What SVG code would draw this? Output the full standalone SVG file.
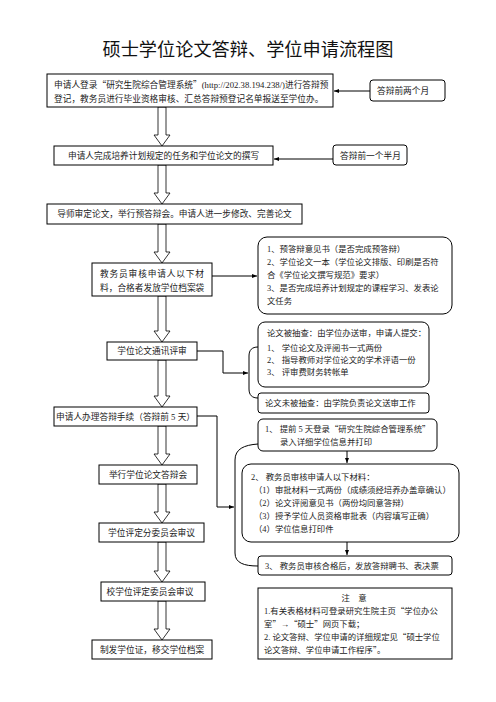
<svg xmlns="http://www.w3.org/2000/svg" width="496" height="702" viewBox="0 0 496 702">
<style>
.b{fill:#fff;stroke:#000;stroke-width:1}
.r{fill:#fff;stroke:#000;stroke-width:1}
.t{font-family:"Liberation Serif","Noto Sans CJK SC",serif;font-size:8.7px;fill:#222}
.s{font-family:"Liberation Serif","Noto Sans CJK SC",serif;font-size:8.4px;fill:#222}
.q{font-family:"Noto Sans CJK SC",sans-serif}
.c{text-anchor:middle}
.ha{fill:#fff;stroke:#000;stroke-width:0.8}
.ln{fill:none;stroke:#000;stroke-width:1}
</style>
<defs>
<marker id="ah" viewBox="0 0 10 10" refX="10" refY="5" markerWidth="5" markerHeight="5" orient="auto-start-reverse">
<path d="M0,1 L10,5 L0,9 Z" fill="#000"/>
</marker>
</defs>
<rect width="496" height="702" fill="#fff"/>
<text x="248" y="56" font-family="'Noto Sans CJK SC',sans-serif" font-size="18.2" text-anchor="middle" fill="#111">硕士学位论文答辩、学位申请流程图</text>

<g id="connectors">
<path class="ha" d="M158,107 L166,107 L166,135 L170,135 L162,146 L154,135 L158,135 Z"/>
<path class="ha" d="M158,165 L166,165 L166,193 L170,193 L162,204 L154,193 L158,193 Z"/>
<path class="ha" d="M158,224 L166,224 L166,252 L170,252 L162,263 L154,252 L158,252 Z"/>
<path class="ha" d="M158,296 L166,296 L166,331 L170,331 L162,342 L154,331 L158,331 Z"/>
<path class="ha" d="M158,360 L166,360 L166,396 L170,396 L162,407 L154,396 L158,396 Z"/>
<path class="ha" d="M158,426 L166,426 L166,454 L170,454 L162,465 L154,454 L158,454 Z"/>
<path class="ha" d="M158,484 L166,484 L166,512 L170,512 L162,523 L154,512 L158,512 Z"/>
<path class="ha" d="M158,542 L166,542 L166,571 L170,571 L162,582 L154,571 L158,571 Z"/>
<path class="ha" d="M158,601 L166,601 L166,629 L170,629 L162,640 L154,629 L158,629 Z"/>
<path class="ln" d="M370,91 L334,91" marker-end="url(#ah)"/>
<path class="ln" d="M333,159 L274,159" marker-end="url(#ah)"/>
<path class="ln" d="M212,276 L257,276" marker-end="url(#ah)"/>
<path class="ln" d="M197,351 L223,351 L223,373 L248,373" marker-end="url(#ah)"/>
<path class="ln" d="M258,347 C252,347 249,350 249,356 L249,389 C249,395 252,398 258,398"/>
<path class="ln" d="M197,416 L217,416 L217,507 L234,507" marker-end="url(#ah)"/>
<path class="ln" d="M258,444 C244,445 235,449 235,460 L235,553 C235,563 244,566 258,566"/>
<path class="ln" d="M347,451 L347,463" marker-end="url(#ah)"/>
<path class="ln" d="M347,542 L347,555" marker-end="url(#ah)"/>
</g>

<g id="n1"><rect class="b" x="47" y="74" width="286" height="33"/>
<text class="t" x="54" y="87.5">申请人登录<tspan class="q">“</tspan>研究生院综合管理系统<tspan class="q">”</tspan>(http://202.38.194.238/)进行答辩预</text>
<text class="t" x="54" y="102">登记，教务员进行毕业资格审核、汇总答辩预登记名单报送至学位办。</text></g>
<g id="n1r"><rect class="r" x="370" y="80" width="75" height="21" rx="3"/>
<text class="t" x="377" y="94">答辩前两个月</text></g>

<g id="n2"><rect class="b" x="54" y="146" width="219" height="19"/>
<text class="t c" x="163.5" y="159">申请人完成培养计划规定的任务和学位论文的撰写</text></g>
<g id="n2r"><rect class="r" x="333" y="145" width="74" height="20" rx="3"/>
<text class="t" x="340" y="158.5">答辩前一个半月</text></g>

<g id="n3"><rect class="b" x="47" y="204" width="255" height="20"/>
<text class="t c" x="174.5" y="217">导师审定论文，举行预答辩会。申请人进一步修改、完善论文</text></g>

<g id="n4"><rect class="b" x="92" y="263" width="120" height="33"/>
<text class="t" x="100" y="276.5" letter-spacing="0.85">教务员审核申请人以下材</text>
<text class="t" x="100" y="290.5">料，合格者发放学位档案袋</text></g>

<g id="n5"><rect class="r" x="258" y="237" width="194" height="77" rx="9"/>
<text class="s" x="267" y="252">1、预答辩意见书（是否完成预答辩）</text>
<text class="s" x="267" y="264.5">2、学位论文一本（学位论文排版、印刷是否符</text>
<text class="s" x="267" y="278">合《学位论文撰写规范》要求）</text>
<text class="s" x="267" y="291">3、是否完成培养计划规定的课程学习、发表论</text>
<text class="s" x="267" y="304">文任务</text></g>

<g id="n6"><rect class="b" x="107" y="342" width="90" height="18"/>
<text class="t c" x="152" y="354">学位论文通讯评审</text></g>

<g id="n7"><rect class="r" x="258" y="322" width="171" height="65" rx="7"/>
<text class="s" x="267" y="336">论文被抽查：由学位办送审，申请人提交：</text>
<text class="s" x="267" y="350.5">1、 学位论文及评阅书一式两份</text>
<text class="s" x="267" y="363">2、 指导教师对学位论文的学术评语一份</text>
<text class="s" x="267" y="375">3、 评审费财务转帐单</text></g>

<g id="n8"><rect class="r" x="258" y="393" width="171" height="20" rx="3"/>
<text class="s" x="265" y="406">论文未被抽查：由学院负责论文送审工作</text></g>

<g id="n9"><rect class="b" x="54" y="407" width="143" height="19"/>
<text class="t c" x="125.5" y="420">申请人办理答辩手续（答辩前 5 天）</text></g>

<g id="n10"><rect class="r" x="258" y="419" width="179" height="32" rx="5"/>
<text class="s" x="265" y="432">1、 提前 5 天登录<tspan class="q">“</tspan>研究生院综合管理系统<tspan class="q">”</tspan></text>
<text class="s" x="280" y="445">录入详细学位信息并打印</text></g>

<g id="n11"><rect class="r" x="242" y="464" width="217" height="78" rx="9"/>
<text class="s" x="251" y="480">2、 教务员审核申请人以下材料：</text>
<text class="s" x="254" y="493">（1）审批材料一式两份（成绩须经培养办盖章确认）</text>
<text class="s" x="254" y="506">（2）论文评阅意见书（两份均同意答辩）</text>
<text class="s" x="254" y="519">（3）授予学位人员资格审批表（内容填写正确）</text>
<text class="s" x="254" y="531.5">（4）学位信息打印件</text></g>

<g id="n12"><rect class="r" x="258" y="556" width="194" height="19" rx="3"/>
<text class="s" x="265" y="569">3、 教务员审核合格后，发放答辩聘书、表决票</text></g>

<g id="n13"><rect class="b" x="99" y="465" width="98" height="19"/>
<text class="t c" x="148" y="478">举行学位论文答辩会</text></g>

<g id="n14"><rect class="b" x="99" y="523" width="105" height="19"/>
<text class="t c" x="151.5" y="536">学位评定分委员会审议</text></g>

<g id="n15"><rect class="b" x="101" y="582" width="104" height="19"/>
<text class="t c" x="150" y="595">校学位评定委员会审议</text></g>

<g id="n16"><rect class="b" x="92" y="640" width="120" height="19"/>
<text class="t c" x="152" y="653">制发学位证，移交学位档案</text></g>

<g id="note"><rect class="b" x="258" y="588" width="194" height="71"/>
<text class="s c" x="354" y="601">注　意</text>
<text class="s" x="264" y="614">1.有关表格材料可登录研究生院主页<tspan class="q">“</tspan>学位办公</text>
<text class="s" x="264" y="627">室<tspan class="q">”</tspan>→<tspan class="q">“</tspan>硕士<tspan class="q">”</tspan>网页下载；</text>
<text class="s" x="264" y="640">2. 论文答辩、学位申请的详细规定见<tspan class="q">“</tspan>硕士学位</text>
<text class="s" x="264" y="653">论文答辩、学位申请工作程序<tspan class="q">”</tspan>。</text></g>
</svg>
